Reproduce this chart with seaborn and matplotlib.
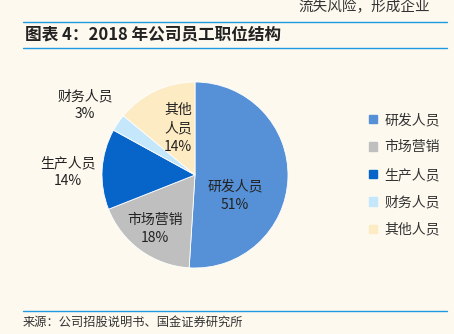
import matplotlib
matplotlib.use("Agg")
import matplotlib.pyplot as plt
import seaborn as sns
import numpy as np

categories = ["研发人员", "市场营销", "生产人员", "财务人员", "其他人员"]
values = [51, 18, 14, 3, 14]
colors = ["#5690D6", "#BFBFBF", "#0765CA", "#C5E7FB", "#FDEBC3"]

sns.set_theme(style="white")
plt.rcParams['font.family'] = ['Noto Sans CJK SC', 'DejaVu Sans']
BG = "#FDF9EF"

fig = plt.figure(figsize=(4.54, 3.34), dpi=100, facecolor=BG)
W, H = 454, 334

def fx(x): return x / W
def fy(y): return 1 - y / H

# header / footer
fig.add_artist(plt.Line2D([fx(23), fx(447)], [fy(22), fy(22)], color="#1E9BE0", lw=1.0))
fig.add_artist(plt.Line2D([fx(23), fx(447)], [fy(48), fy(48)], color="#1E9BE0", lw=1.0))
fig.add_artist(plt.Line2D([fx(23), fx(447)], [fy(311), fy(311)], color="#1E9BE0", lw=1.0))
fig.text(fx(298), fy(7), "流失风险，形成企业", fontsize=10.5, color="#333333", va="center", ha="left")
fig.text(fx(25), fy(34), "图表 4：2018 年公司员工职位结构", fontsize=12, fontweight="bold",
         color="#222222", va="center", ha="left", style="italic")
fig.text(fx(23), fy(322), "来源：公司招股说明书、国金证券研究所", fontsize=8.8, color="#333333",
         va="center", ha="left")

cx, cy, r = 195, 175, 93
ax = fig.add_axes([fx(cx - r), 1 - (cy + r) / H, 2 * r / W, 2 * r / H])
ax.set_facecolor(BG)
wedges, _ = ax.pie(values, colors=colors, startangle=90, counterclock=False,
                   radius=1.0, wedgeprops=dict(linewidth=0.6, edgecolor="white"))
ax.set_xlim(-1, 1); ax.set_ylim(-1, 1)
ax.set_aspect("equal")
ax.axis("off")

label_pos = {
    "研发人员": (0.43, -0.22),
    "市场营销": (-0.43, -0.58),
    "生产人员": (-1.37, 0.03),
    "财务人员": (-1.18, 0.75),
    "其他人员": (-0.18, 0.5),
}
for cat, v in zip(categories, values):
    x, y = label_pos[cat]
    if cat == "其他人员":
        txt = f"其他\n人员\n{v}%"
    else:
        txt = f"{cat}\n{v}%"
    ax.text(x, y, txt, ha="center", va="center", fontsize=10, color="#222222",
            linespacing=1.4, clip_on=False)

handles = [plt.Rectangle((0, 0), 1, 1, color=c) for c in colors]
leg = fig.legend(handles, categories, loc="upper left", bbox_to_anchor=(fx(362), fy(106)),
                 frameon=False, fontsize=10, handlelength=0.6, handleheight=0.6,
                 handletextpad=0.5, labelspacing=0.97, borderpad=0)
for t in leg.get_texts():
    t.set_color("#333333")

fig.savefig("out.png", dpi=100, facecolor=BG)
